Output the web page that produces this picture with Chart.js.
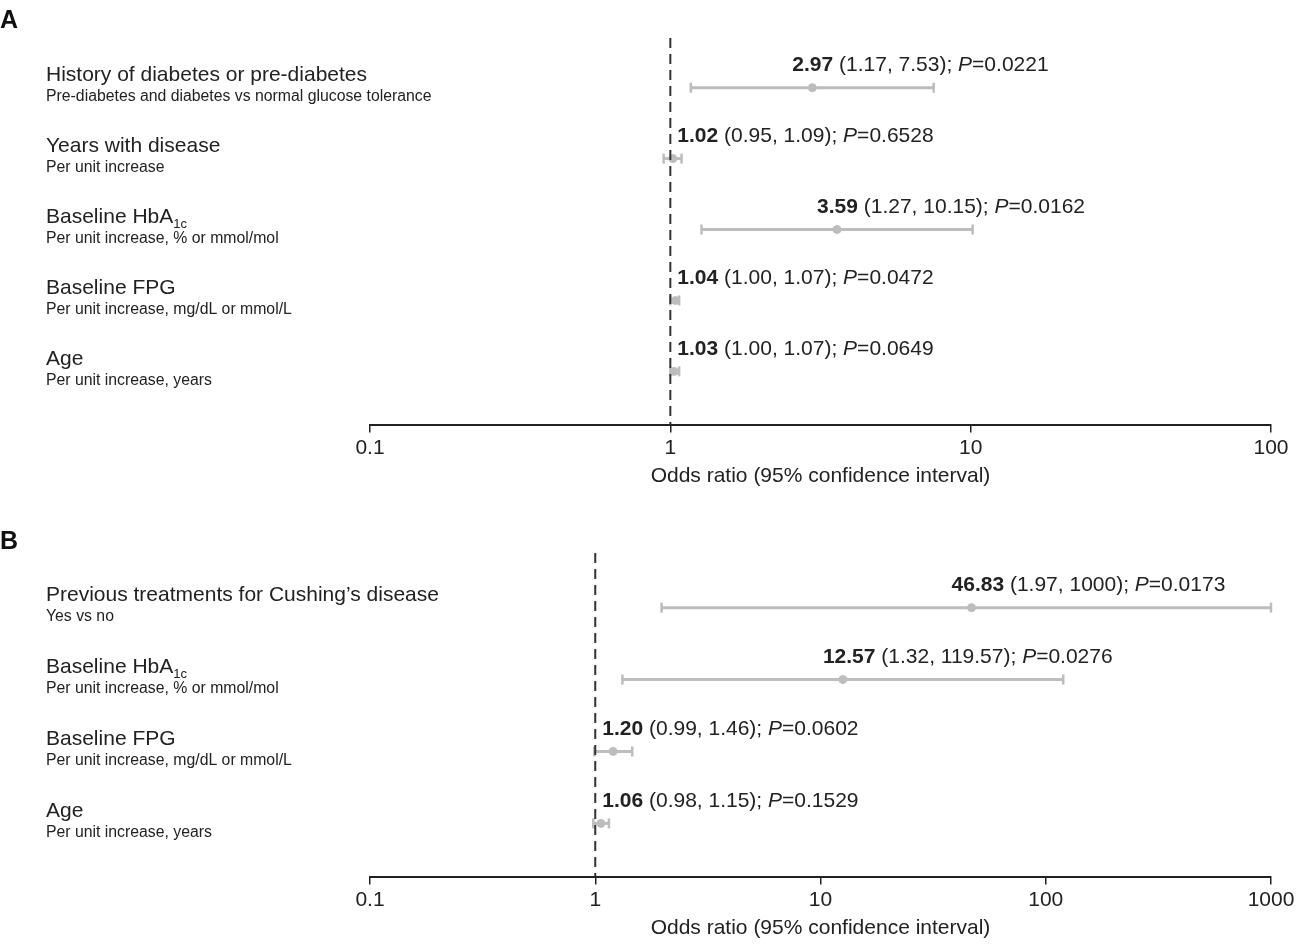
<!DOCTYPE html>
<html>
<head>
<meta charset="utf-8">
<script src="https://cdn.jsdelivr.net/npm/chart.js@4.4.1/dist/chart.umd.min.js"></script>
<style>
  body { margin: 0; background: #fff; }
  #wrap { position: relative; width: 1300px; height: 945px; }
  canvas { position: absolute; left: 0; }
  .panel { position: absolute; left: 0; font: bold 25px "Liberation Sans", Arial, sans-serif; color: #111; line-height: 28px; }
</style>
</head>
<body>
<div id="wrap">
  <canvas id="chartA" width="1300" height="490" style="top:0"></canvas>
  <canvas id="chartB" width="1300" height="445" style="top:500px"></canvas>
  <div class="panel" style="top:5px">A</div>
  <div class="panel" style="top:526px">B</div>
</div>
<script>
const FONT = '"Liberation Sans", Arial, sans-serif';
const TEXT = '#222';
const GREY = '#bdbdbd';

// panel A - odds ratios with 95% CI
const namesA = ['History of diabetes or pre-diabetes', 'Years with disease', 'Baseline HbA', 'Baseline FPG', 'Age'];
const subscriptA = ['', '', '1c', '', ''];
const notesA = ['Pre-diabetes and diabetes vs normal glucose tolerance', 'Per unit increase', 'Per unit increase, % or mmol/mol', 'Per unit increase, mg/dL or mmol/L', 'Per unit increase, years'];
const orA = [2.97, 1.02, 3.59, 1.04, 1.03];
const lowA = [1.17, 0.95, 1.27, 1.00, 1.00];
const highA = [7.53, 1.09, 10.15, 1.07, 1.07];
const pA = ['0.0221', '0.6528', '0.0162', '0.0472', '0.0649'];
const ticksA = [0.1, 1, 10, 100];

// panel B
const namesB = ['Previous treatments for Cushing\u2019s disease', 'Baseline HbA', 'Baseline FPG', 'Age'];
const subscriptB = ['', '1c', '', ''];
const notesB = ['Yes vs no', 'Per unit increase, % or mmol/mol', 'Per unit increase, mg/dL or mmol/L', 'Per unit increase, years'];
const orB = [46.83, 12.57, 1.20, 1.06];
const lowB = [1.97, 1.32, 0.99, 0.98];
const highB = [1000, 119.57, 1.46, 1.15];
const pB = ['0.0173', '0.0276', '0.0602', '0.1529'];
const ticksB = [0.1, 1, 10, 100, 1000];

const fmt = v => v >= 1000 ? String(v) : v.toFixed(2);

// row labels on the left and the OR text above each bar
function textPlugin(d) {
  return {
    id: 'forestText',
    afterDatasetsDraw(chart) {
      const ctx = chart.ctx, x = chart.scales.x, y = chart.scales.y;
      ctx.save();
      ctx.textBaseline = 'middle';
      ctx.fillStyle = TEXT;
      d.names.forEach((name, i) => {
        const py = y.getPixelForValue(i);
        ctx.font = '21px ' + FONT;
        ctx.fillText(name, 46, py - 12);
        if (d.subs[i]) {
          const w = ctx.measureText(name).width;
          ctx.font = '13px ' + FONT;
          ctx.fillText(d.subs[i], 46 + w, py - 5);
        }
        ctx.font = '15.8px ' + FONT;
        ctx.fillText(d.notes[i], 46, py + 9);

        let tx = Math.max(x.getPixelForValue(d.or[i]) - 20, x.getPixelForValue(1) + 7);
        const parts = [
          ['bold 21px ', d.or[i].toFixed(2)],
          ['21px ', ' (' + fmt(d.low[i]) + ', ' + fmt(d.high[i]) + '); '],
          ['italic 21px ', 'P'],
          ['21px ', '=' + d.p[i]]
        ];
        parts.forEach(([f, s]) => {
          ctx.font = f + FONT;
          ctx.fillText(s, tx, py - 22);
          tx += ctx.measureText(s).width;
        });
      });
      ctx.restore();
    }
  };
}

function makeChart(id, d) {
  const datasets = [{
    type: 'line',
    data: [{x: 1, y: d.yMin}, {x: 1, y: d.yMax}],
    borderColor: '#333', borderWidth: 2, borderDash: [10, 6], pointRadius: 0, clip: false
  }, {
    type: 'scatter',
    data: d.or.map((v, i) => ({x: v, y: i})),
    backgroundColor: GREY, borderColor: GREY, pointRadius: 4, clip: false
  }];
  d.or.forEach((v, i) => datasets.push({
    type: 'line',
    data: [{x: d.low[i], y: i}, {x: d.high[i], y: i}],
    borderColor: GREY, borderWidth: 3,
    pointStyle: 'line', pointRotation: 90, pointRadius: 5,
    pointBorderWidth: 2.5, pointBorderColor: GREY, clip: false
  }));

  return new Chart(document.getElementById(id), {
    type: 'scatter',
    data: { datasets },
    options: {
      responsive: false,
      animation: false,
      layout: { padding: { left: 370, right: 29, top: d.top, bottom: d.bottom } },
      plugins: { legend: { display: false }, tooltip: { enabled: false } },
      scales: {
        x: {
          type: 'logarithmic',
          min: d.ticks[0],
          max: d.ticks[d.ticks.length - 1],
          afterBuildTicks: s => { s.ticks = d.ticks.map(v => ({ value: v })); },
          ticks: { callback: v => String(v), color: TEXT, font: { family: FONT, size: 21 }, padding: 3, maxRotation: 0, autoSkip: false },
          grid: { drawOnChartArea: false, drawTicks: true, tickLength: 8, color: TEXT, lineWidth: 1.5 },
          border: { display: true, color: TEXT, width: 2 },
          title: { display: true, text: 'Odds ratio (95% confidence interval)', color: TEXT, font: { family: FONT, size: 21 }, padding: { top: 0, bottom: 0 } }
        },
        y: { type: 'linear', reverse: true, min: d.yMin, max: d.yMax, display: false }
      }
    },
    plugins: [textPlugin(d)]
  });
}

makeChart('chartA', {
  names: namesA, subs: subscriptA, notes: notesA, or: orA, low: lowA, high: highA, p: pA,
  ticks: ticksA, yMin: -0.7, yMax: 4.75, top: 38, bottom: 1
});
makeChart('chartB', {
  names: namesB, subs: subscriptB, notes: notesB, or: orB, low: lowB, high: highB, p: pB,
  ticks: ticksB, yMin: -0.76, yMax: 3.74, top: 53, bottom: 4
});
</script>
</body>
</html>
